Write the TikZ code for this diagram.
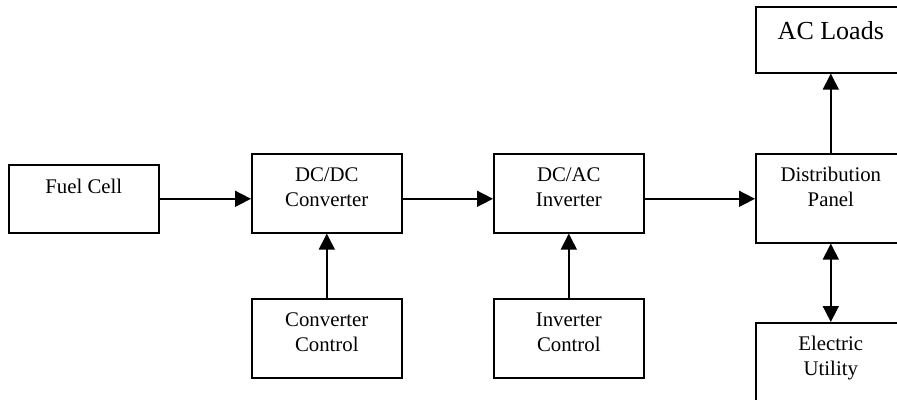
\documentclass[tikz,border=0pt]{standalone}
\usepackage{fontspec}
\setmainfont{Liberation Serif}
\usetikzlibrary{arrows.meta}

% Top-aligned, centred text block for a box of given height
\newcommand\blocktext[3][28pt]{\parbox[c][#2][t]{150pt}{\centering\rule{0pt}{#1}#3}}

\begin{document}
\begin{tikzpicture}[x=1pt,y=-1pt,
  block/.style={draw=black, line width=1.6pt, rectangle, inner sep=0pt,
    font=\fontsize{20.8}{24.4}\selectfont, anchor=north west},
  arr/.style={line width=1.6pt, -{Triangle[length=16pt,width=16pt]}},
  darr/.style={line width=1.6pt, {Triangle[length=16pt,width=16pt]}-{Triangle[length=16pt,width=16pt]}}]
\useasboundingbox (0,0) rectangle (897,399);
\clip (0,0) rectangle (897,399);

% main power path
\node[block] (fuel) at (8,164) {\blocktext[29pt]{68pt}{Fuel Cell}};
\node[block] (dcdc) at (251,153) {\blocktext{79pt}{DC/DC\\Converter}};
\node[block] (dcac) at (493,153) {\blocktext{79pt}{DC/AC\\Inverter}};
\node[block] (dist) at (755,153) {\blocktext{89pt}{Distribution\\Panel}};

% control blocks
\node[block] (cconv) at (251,298) {\blocktext{79pt}{Converter\\Control}};
\node[block] (cinv) at (493,298) {\blocktext{79pt}{Inverter\\Control}};

% loads and grid
\node[block, font=\fontsize{26}{30}\selectfont] (loads) at (755,6) {\blocktext[33pt]{66pt}{AC Loads}};
\node[block] (util) at (755,322) {\blocktext{90pt}{Electric\\Utility}};

% connectors
\draw[arr] (fuel.east) -- (fuel.east -| dcdc.west);
\draw[arr] (dcdc.east |- fuel.east) -- (dcac.west |- fuel.east);
\draw[arr] (dcac.east |- fuel.east) -- (dist.west |- fuel.east);
\draw[arr] (cconv.north) -- (dcdc.south);
\draw[arr] (cinv.north) -- (dcac.south);
\draw[arr] (dist.north) -- (loads.south);
\draw[darr] (dist.south) -- (util.north);
\end{tikzpicture}
\end{document}
